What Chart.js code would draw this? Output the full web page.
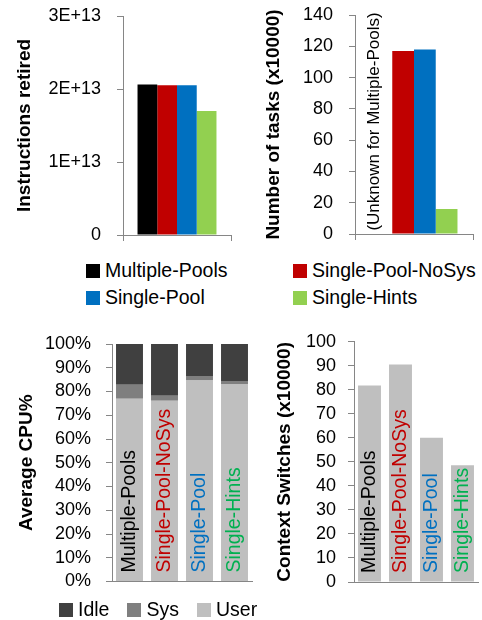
<!DOCTYPE html>
<html>
<head>
<meta charset="utf-8">
<script src="https://cdn.jsdelivr.net/npm/chart.js@4.4.1/dist/chart.umd.min.js"></script>
<style>
    body { margin: 0; background: #fff; }
    #page { position: relative; width: 482px; height: 620px; overflow: hidden; font-family: "Liberation Sans", Arial, sans-serif; }
    canvas { position: absolute; }
    .legend { position: absolute; color: #000; font-size: 19.5px; }
    .legend .item { display: flex; align-items: center; height: 27px; white-space: nowrap; }
    .legend .box { width: 14px; height: 14px; margin-right: 5px; }
    #topLegend { left: 86px; top: 257px; display: grid; grid-template-columns: 207px auto; }
    #cpuLegend { left: 59px; top: 596px; display: flex; }
    #cpuLegend .item { margin-right: 18px; }
</style>
</head>
<body>
<div id="page">
    <canvas id="instructionsChart" width="241" height="250" style="left:0;top:0"></canvas>
    <canvas id="tasksChart" width="241" height="250" style="left:241px;top:0"></canvas>
    <div class="legend" id="topLegend"></div>
    <canvas id="cpuChart" width="260" height="280" style="left:0;top:320px"></canvas>
    <canvas id="switchesChart" width="232" height="280" style="left:250px;top:320px"></canvas>
    <div class="legend" id="cpuLegend"></div>
</div>
<script>
// series / categories
var series = ['Multiple-Pools', 'Single-Pool-NoSys', 'Single-Pool', 'Single-Hints'];
var seriesColors = ['#000000', '#c00000', '#0070c0', '#92d050'];
var labelColors = ['#000000', '#c00000', '#0070c0', '#00b050'];

// top charts, one value per series
var instructionsRetired = [2.06e13, 2.05e13, 2.05e13, 1.70e13];
var tasks = [null, 117, 118, 16]; // unknown for Multiple-Pools
var tasksNote = '(Unknown for Multiple-Pools)';

// bottom charts
var cpuParts = ['Idle', 'Sys', 'User'];
var cpuColors = ['#404040', '#7f7f7f', '#bfbfbf'];
var cpuUser = [76.9, 76.1, 84.6, 83.0];
var cpuSys = [5.9, 2.1, 1.9, 1.4];
var cpuIdle = [17.2, 21.8, 13.5, 15.6];
var contextSwitches = [81.8, 90.5, 60, 48.6];

var axisColor = '#868686';
Chart.defaults.font.family = '"Liberation Sans", Arial, sans-serif';
Chart.defaults.color = '#000';

function yAxis(title, max, step, width, titlePad, labelPad, format, stacked) {
    return {
        min: 0,
        max: max,
        stacked: stacked,
        border: { color: axisColor },
        grid: { drawOnChartArea: false, drawTicks: true, tickLength: 6, color: axisColor },
        ticks: { stepSize: step, autoSkip: false, padding: labelPad, font: { size: 18 }, callback: format },
        title: {
            display: true, text: title,
            font: { size: 19, weight: 'bold' },
            padding: { top: titlePad, bottom: 0 }
        },
        afterFit: function (scale) {
            // fixed axis box, plot area comes from layout padding only
            scale.width = width;
            scale.paddingTop = 0;
            scale.paddingBottom = 0;
        }
    };
}

function xAxis(drawTicks, stacked) {
    return {
        stacked: stacked,
        border: { color: axisColor },
        grid: { drawOnChartArea: false, drawTicks: drawTicks, tickLength: 6, color: axisColor, offset: true },
        ticks: { display: false }
    };
}

function seriesDatasets(values) {
    var sets = [];
    for (var i = 0; i < series.length; i++) {
        sets.push({ label: series[i], data: [values[i]], backgroundColor: seriesColors[i] });
    }
    return sets;
}

// rotated category names written inside the bars
var namesInBars = {
    id: 'namesInBars',
    afterDatasetsDraw: function (chart) {
        var ctx = chart.ctx;
        var x = chart.scales.x;
        ctx.save();
        ctx.font = '19.5px "Liberation Sans", Arial, sans-serif';
        ctx.textAlign = 'left';
        ctx.textBaseline = 'middle';
        chart.data.labels.forEach(function (name, i) {
            ctx.save();
            ctx.translate(x.getPixelForValue(i), chart.chartArea.bottom - 9);
            ctx.rotate(-Math.PI / 2);
            ctx.fillStyle = labelColors[i];
            ctx.fillText(name, 0, 0);
            ctx.restore();
        });
        ctx.restore();
    }
};

var noteInChart = {
    id: 'noteInChart',
    afterDatasetsDraw: function (chart) {
        var ctx = chart.ctx;
        var area = chart.chartArea;
        ctx.save();
        ctx.font = '17px "Liberation Sans", Arial, sans-serif';
        ctx.fillStyle = '#000';
        ctx.textAlign = 'center';
        ctx.textBaseline = 'middle';
        ctx.translate(area.left + 19, (area.top + area.bottom) / 2 - 3);
        ctx.rotate(-Math.PI / 2);
        ctx.fillText(tasksNote, 0, 0);
        ctx.restore();
    }
};

var common = {
    responsive: false,
    animation: false,
    plugins: { legend: { display: false }, tooltip: { enabled: false } }
};

new Chart(document.getElementById('instructionsChart'), {
    type: 'bar',
    data: { labels: [''], datasets: seriesDatasets(instructionsRetired) },
    options: Object.assign({}, common, {
        layout: { padding: { left: 0, top: 16, right: 10, bottom: 9 } },
        datasets: { bar: { barPercentage: 1, categoryPercentage: 0.731 } },
        scales: {
            x: xAxis(true, false),
            y: yAxis('Instructions retired', 3e13, 1e13, 123, 13.6, 16, function (v) {
                return v === 0 ? '0' : (v / 1e13) + 'E+13';
            }, false)
        }
    })
});

new Chart(document.getElementById('tasksChart'), {
    type: 'bar',
    data: { labels: [''], datasets: seriesDatasets(tasks) },
    options: Object.assign({}, common, {
        layout: { padding: { left: 0, top: 15, right: 9, bottom: 10 } },
        datasets: { bar: { barPercentage: 1, categoryPercentage: 0.737 } },
        scales: {
            x: xAxis(true, false),
            y: yAxis('Number of tasks (x10000)', 140, 20, 114, 21.6, 16, function (v) { return v; }, false)
        }
    }),
    plugins: [noteInChart]
});

new Chart(document.getElementById('cpuChart'), {
    type: 'bar',
    data: {
        labels: series,
        datasets: [
            { label: 'User', data: cpuUser, backgroundColor: cpuColors[2] },
            { label: 'Sys', data: cpuSys, backgroundColor: cpuColors[1] },
            { label: 'Idle', data: cpuIdle, backgroundColor: cpuColors[0] }
        ]
    },
    options: Object.assign({}, common, {
        layout: { padding: { left: 0, top: 24, right: 8, bottom: 18.5 } },
        datasets: { bar: { barPercentage: 0.77, categoryPercentage: 1 } },
        scales: {
            x: xAxis(false, true),
            y: yAxis('Average CPU%', 100, 10, 112, 15.6, 15, function (v) { return v + '%'; }, true)
        }
    }),
    plugins: [namesInBars]
});

new Chart(document.getElementById('switchesChart'), {
    type: 'bar',
    data: {
        labels: series,
        datasets: [{ label: 'Context Switches', data: contextSwitches, backgroundColor: '#bfbfbf' }]
    },
    options: Object.assign({}, common, {
        layout: { padding: { left: 0, top: 21.7, right: 4, bottom: 18 } },
        datasets: { bar: { barPercentage: 0.74, categoryPercentage: 1 } },
        scales: {
            x: xAxis(false, false),
            y: yAxis('Context Switches (x10000)', 100, 10, 104, 23.6, 12, function (v) { return v; }, false)
        }
    }),
    plugins: [namesInBars]
});

// html legends
function buildLegend(id, names, colors) {
    var html = '';
    for (var i = 0; i < names.length; i++) {
        html += '<div class="item"><span class="box" style="background:' + colors[i] + '"></span>' + names[i] + '</div>';
    }
    document.getElementById(id).innerHTML = html;
}
buildLegend('topLegend', series, seriesColors);
buildLegend('cpuLegend', cpuParts, cpuColors);
</script>
</body>
</html>
